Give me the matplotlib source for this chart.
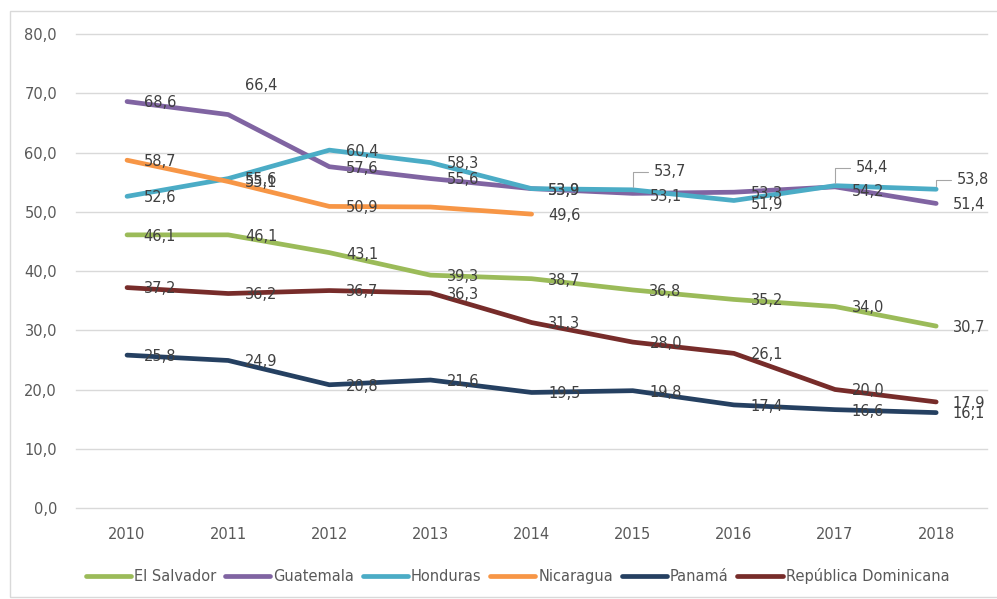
import matplotlib
matplotlib.use("Agg")
import matplotlib.pyplot as plt
from matplotlib.patches import Rectangle

# ── Data ──────────────────────────────────────────────────────────────────────
years = ["2010", "2011", "2012", "2013", "2014", "2015", "2016", "2017", "2018"]

el_salvador = [46.1, 46.1, 43.1, 39.3, 38.7, 36.8, 35.2, 34.0, 30.7]
guatemala   = [68.6, 66.4, 57.6, 55.6, 53.9, 53.1, 53.3, 54.2, 51.4]
honduras    = [52.6, 55.6, 60.4, 58.3, 53.9, 53.7, 51.9, 54.4, 53.8]
nicaragua   = [58.7, 55.1, 50.9, 50.8, 49.6]
panama      = [25.8, 24.9, 20.8, 21.6, 19.5, 19.8, 17.4, 16.6, 16.1]
rep_dom     = [37.2, 36.2, 36.7, 36.3, 31.3, 28.0, 26.1, 20.0, 17.9]

series_names = ["El Salvador", "Guatemala", "Honduras", "Nicaragua",
                "Panamá", "República Dominicana"]
series_vals = [el_salvador, guatemala, honduras, nicaragua, panama, rep_dom]
colors = ["#9bbb59", "#8064a2", "#4bacc6", "#f79646", "#254061", "#772c2a"]

# labels that were dragged away from the default "right" spot
# (series, index) -> (dx, dy) in points, plus whether a leader line is drawn
label_moves = {
    ("Guatemala", 1): (12, 21, False),
    ("Honduras", 5): (15, 13, True),
    ("Honduras", 7): (15, 13, True),
    ("Honduras", 8): (15, 7, True),
    ("Guatemala", 5): (12, -2, False),
    ("Honduras", 6): (12, -3, False),
    ("Guatemala", 7): (12, -3, False),
}
# points that carry no label in the original
no_label = {("Nicaragua", 3)}

TEXT = "#595959"
LABEL = "#404040"
FS = 10.5
plt.rcParams["font.family"] = ["DejaVu Sans"]

fig = plt.figure(figsize=(9.97, 5.99), dpi=100)
ax = fig.add_axes([0.0767, 1 - 508 / 599, 0.9130, (508 - 34) / 599])

# chart frame
fig.patches.append(Rectangle((10 / 997, 2 / 599), 1.2, 586 / 599,
                             transform=fig.transFigure, fill=False,
                             edgecolor="#d9d9d9", linewidth=1.0))

x = list(range(len(years)))
for name, vals, col in zip(series_names, series_vals, colors):
    xs = x[:len(vals)]
    ax.plot(xs, vals, color=col, linewidth=3.4, solid_capstyle="round",
            solid_joinstyle="round", label=name, zorder=3)
    for i, v in zip(xs, vals):
        if (name, i) in no_label:
            continue
        dx, dy, leader = label_moves.get((name, i), (12, -1, False))
        txt = f"{v:.1f}".replace(".", ",")
        arrow = None
        if leader:
            arrow = dict(arrowstyle="-", color="#a6a6a6", linewidth=0.8,
                         connectionstyle="angle,angleA=0,angleB=90,rad=0",
                         shrinkA=2, shrinkB=2)
        ax.annotate(txt, (i, v), xytext=(dx, dy), textcoords="offset points",
                    ha="left", va="center", fontsize=FS, color=LABEL,
                    zorder=5, arrowprops=arrow)

ax.set_xlim(-0.5, len(years) - 0.5)
ax.set_ylim(0, 80)
ax.set_yticks(range(0, 81, 10))
ax.set_yticklabels([f"{t:.1f}".replace(".", ",") for t in range(0, 81, 10)])
ax.set_xticks(x)
ax.set_xticklabels(years)
ax.tick_params(length=0, labelsize=FS, colors=TEXT, pad=14)
ax.tick_params(axis="y", pad=14)
ax.grid(axis="y", color="#d9d9d9", linewidth=1.0)
for gl in ax.get_ygridlines():
    gl.set_clip_on(False)
ax.set_axisbelow(True)
for s in ax.spines.values():
    s.set_visible(False)

leg = fig.legend(loc="center", bbox_to_anchor=(0.519, 1 - 576 / 599), ncol=6,
                 frameon=False, fontsize=FS, handlelength=3.1,
                 handletextpad=0.2, columnspacing=0.6, labelcolor=TEXT)
for h in leg.get_lines():
    h.set_linewidth(3.4)

fig.savefig("out.png", dpi=100)
